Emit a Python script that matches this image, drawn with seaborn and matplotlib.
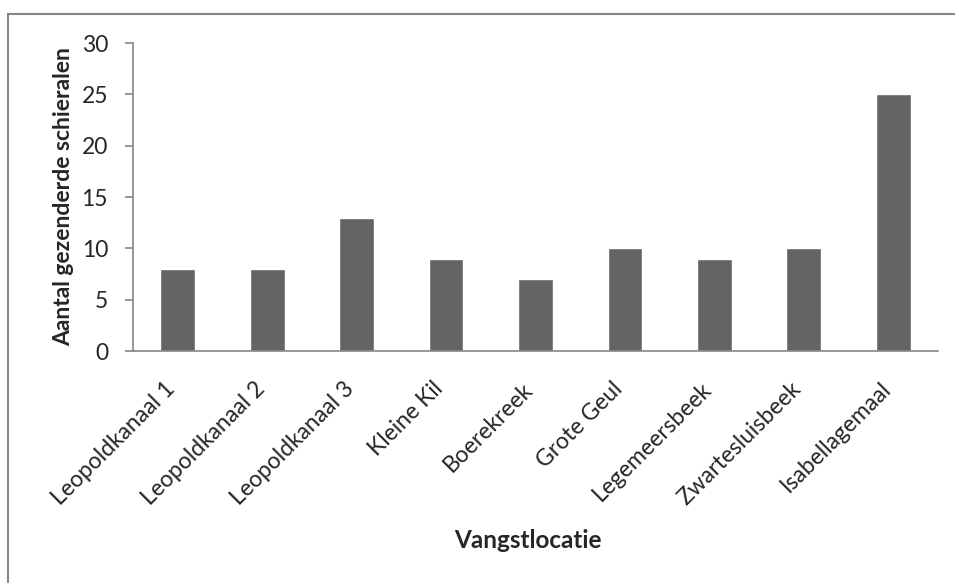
import matplotlib.pyplot as plt
import matplotlib.patches as patches
import matplotlib.transforms as mtransforms
import numpy as np
import pandas as pd
import seaborn as sns

locaties = [
    "Leopoldkanaal 1",
    "Leopoldkanaal 2",
    "Leopoldkanaal 3",
    "Kleine Kil",
    "Boerekreek",
    "Grote Geul",
    "Legemeersbeek",
    "Zwartesluisbeek",
    "Isabellagemaal",
]
aantallen = [8, 8, 13, 9, 7, 10, 9, 10, 25]
y_ticks = [0, 5, 10, 15, 20, 25, 30]

df = pd.DataFrame({"locatie": locaties, "aantal": aantallen})

sns.set_style("white")
plt.rcParams["font.family"] = ["Lato", "DejaVu Sans"]

grijs = "#868686"

fig = plt.figure(figsize=(9.55, 5.83), dpi=100)
ax_l, ax_r, ax_t, ax_b = 133, 938, 43, 351
ax_w = (ax_r - ax_l) / 955
ax_h = (ax_b - ax_t) / 583
ax = fig.add_axes([ax_l / 955, 1 - ax_b / 583, ax_w, ax_h])

sns.barplot(data=df, x="locatie", y="aantal", color="#646464", saturation=1,
            width=0.39, ax=ax)

ax.set_ylim(0, 30)
ax.set_xlim(-0.5, len(locaties) - 0.5)
ax.set_yticks(y_ticks)
ax.set_yticklabels([str(t) for t in y_ticks], fontsize=16.5)

ax.set_xticks(np.arange(len(locaties)))
ax.set_xticklabels(locaties, rotation=45, ha="right", va="center",
                   rotation_mode="anchor", fontsize=16.5)
ax.set_xticks(np.arange(-0.5, len(locaties)), minor=True)
ax.tick_params(axis="x", which="major", length=0, pad=25)
ax.tick_params(axis="x", which="minor", length=6, color=grijs, width=1.2)
ax.tick_params(axis="y", length=6, color=grijs, width=1.2, pad=12, left=True)

# labels iets naar links schuiven
shift = mtransforms.ScaledTranslation(-6 / 100, 0, fig.dpi_scale_trans)
for lbl in ax.get_xticklabels():
    lbl.set_transform(lbl.get_transform() + shift)

for side in ["top", "right"]:
    ax.spines[side].set_visible(False)
for side in ["left", "bottom"]:
    ax.spines[side].set_color(grijs)
    ax.spines[side].set_linewidth(1.2)

ax.set_xlabel("Vangstlocatie", fontsize=17.5, fontweight="bold")
ax.set_ylabel("Aantal gezenderde schieralen", fontsize=16.5, fontweight="bold")
ax.xaxis.set_label_coords(0.5 - 8 / 955 / ax_w, -(529 - ax_b) / 583 / ax_h)
ax.yaxis.set_label_coords(-(ax_l - 74) / 955 / ax_w, 0.5)

rand = patches.Rectangle((8 / 955, -0.05), 1.0, 1 - 14 / 583 + 0.05,
                         transform=fig.transFigure, fill=False,
                         edgecolor=grijs, linewidth=1.5)
fig.patches.append(rand)

fig.savefig("out.png", dpi=100)
